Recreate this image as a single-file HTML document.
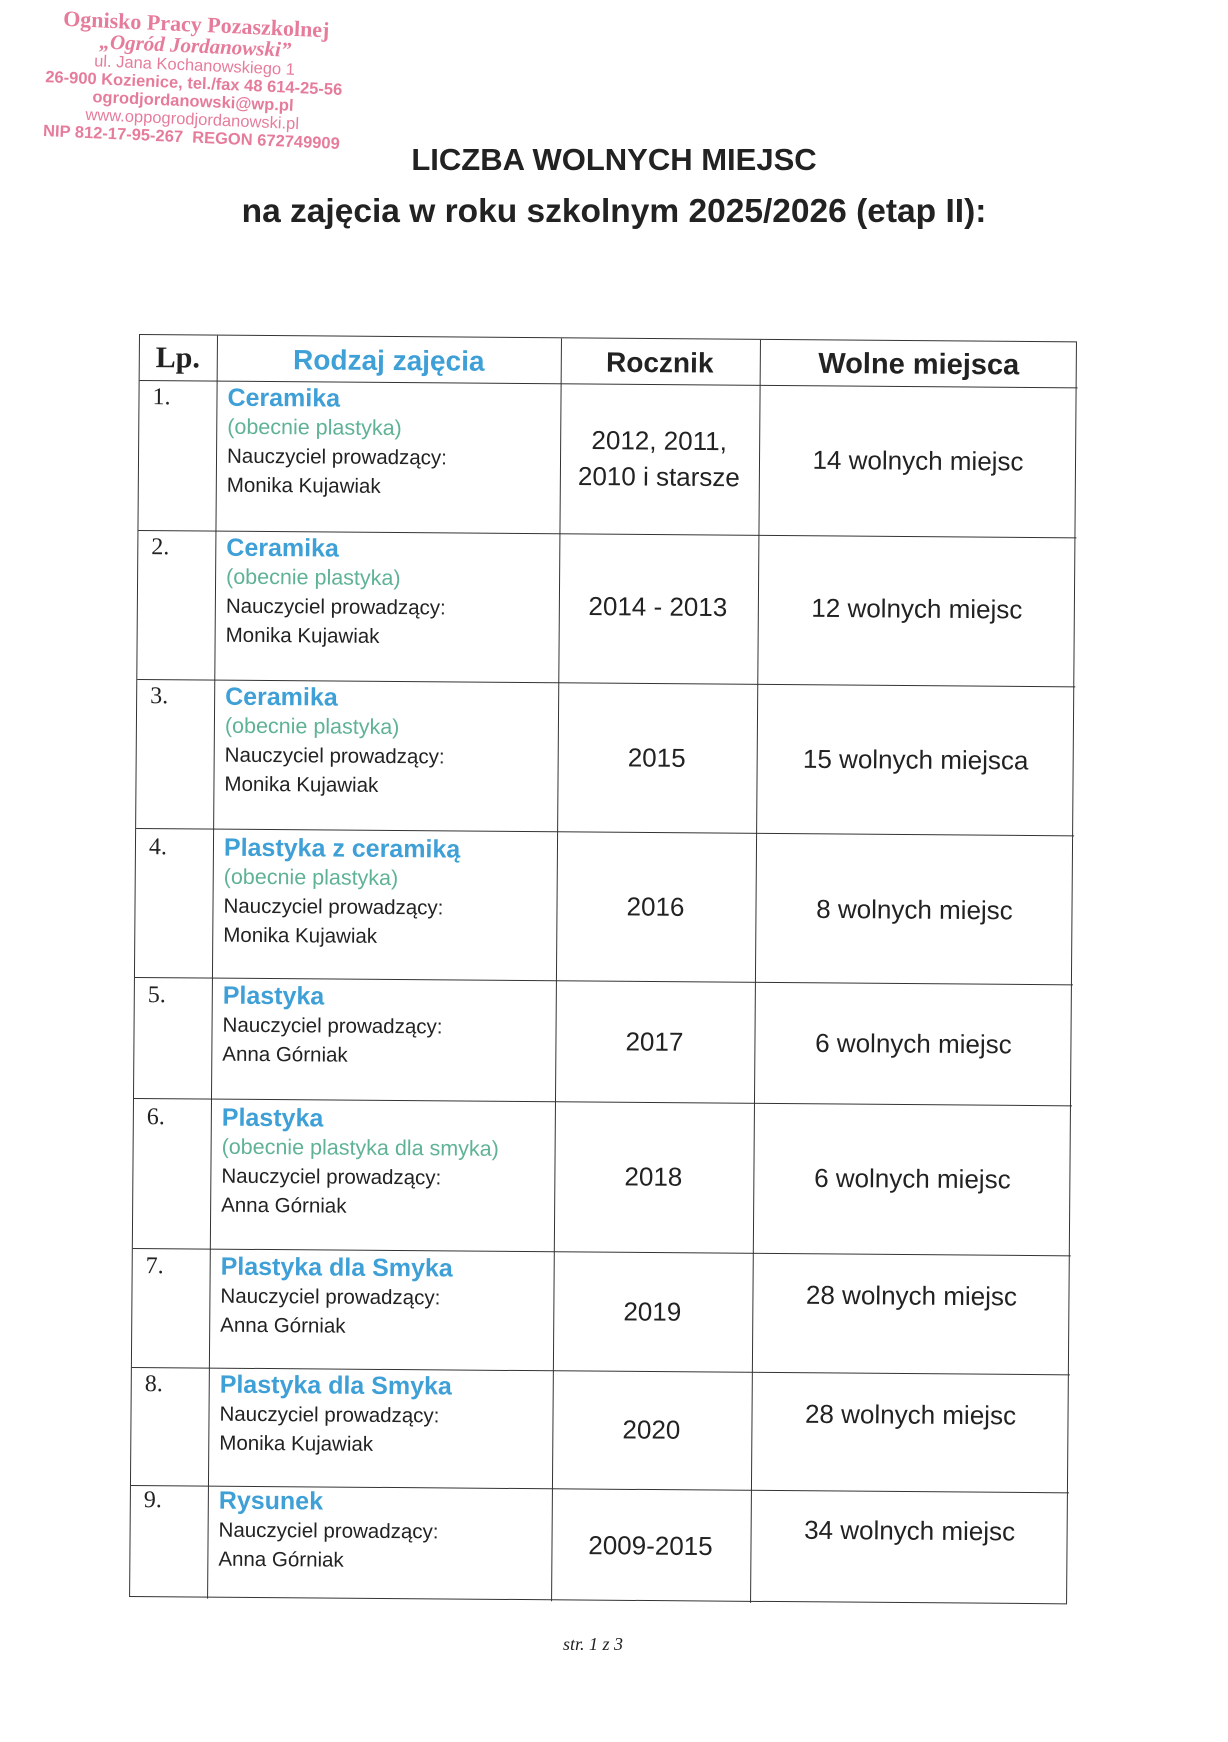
<!DOCTYPE html>
<html><head><meta charset="utf-8"><style>
html,body{margin:0;padding:0;background:#fff;}
body{width:1228px;height:1742px;position:relative;overflow:hidden;font-family:"Liberation Sans",sans-serif;color:#222;}
.a{position:absolute;white-space:nowrap;}
.stamp{position:absolute;left:22px;top:6px;width:350px;transform:rotate(2.5deg);transform-origin:0 0;color:#e2668a;opacity:.85;text-align:center;}
.stamp div{line-height:18px;font-size:16.5px;}
#t{position:absolute;left:139px;top:334px;width:938px;height:1263px;transform:rotate(0.45deg);transform-origin:0 0;border:1.5px solid #333;box-sizing:border-box;}
.h{position:absolute;left:0;width:938px;height:0;border-top:1.5px solid #333;}
.v{position:absolute;top:0;height:1263px;width:0;border-left:1.5px solid #333;}
.c{position:absolute;transform:translate(-50%,-50%);white-space:nowrap;font-size:26px;}
.cell{position:absolute;left:88px;font-size:20.5px;line-height:29px;}
.cell .b{color:#3ea0d6;font-weight:bold;font-size:25px;}
.cell .g{color:#5fb394;font-size:21.5px;}
.n{position:absolute;left:13px;font-family:"Liberation Serif",serif;font-size:24px;line-height:29px;}
</style></head><body>
<div class="stamp">
<div style="font-family:'Liberation Serif',serif;font-weight:bold;font-size:22px;line-height:22px;">Ognisko Pracy Pozaszkolnej</div>
<div style="font-family:'Liberation Serif',serif;font-style:italic;font-weight:bold;font-size:21px;line-height:21px;">„Ogród Jordanowski”</div>
<div>ul. Jana Kochanowskiego 1</div>
<div style="font-weight:bold">26-900 Kozienice, tel./fax 48 614-25-56</div>
<div style="font-weight:bold">ogrodjordanowski@wp.pl</div>
<div>www.oppogrodjordanowski.pl</div>
<div style="font-weight:bold">NIP 812-17-95-267 &nbsp;REGON 672749909</div>
</div>
<div class="a" style="left:0;width:1228px;text-align:center;top:142px;font-weight:bold;font-size:31px;">LICZBA WOLNYCH MIEJSC</div>
<div class="a" style="left:0;width:1228px;text-align:center;top:193px;font-weight:bold;font-size:33.5px;">na zajęcia w roku szkolnym 2025/2026 (etap II):</div>

<div id="t">
<div class="h" style="top:45px"></div>
<div class="h" style="top:195px"></div>
<div class="h" style="top:344px"></div>
<div class="h" style="top:493px"></div>
<div class="h" style="top:642px"></div>
<div class="h" style="top:763px"></div>
<div class="h" style="top:913px"></div>
<div class="h" style="top:1032px"></div>
<div class="h" style="top:1150px"></div>
<div class="v" style="left:77px"></div>
<div class="v" style="left:421px"></div>
<div class="v" style="left:620px"></div>

<div class="c" style="left:38px;top:23px;font-family:'Liberation Serif',serif;font-weight:bold;font-size:30px;">Lp.</div>
<div class="c" style="left:249px;top:24px;font-weight:bold;font-size:28px;color:#3ea0d6;">Rodzaj zajęcia</div>
<div class="c" style="left:520px;top:24px;font-weight:bold;font-size:28px;">Rocznik</div>
<div class="c" style="left:779px;top:24px;font-weight:bold;font-size:29px;">Wolne miejsca</div>

<div class="n" style="top:48px">1.</div>
<div class="cell" style="top:48px"><div class="b">Ceramika</div><div class="g">(obecnie plastyka)</div><div>Nauczyciel prowadzący:</div><div>Monika Kujawiak</div></div>
<div class="c" style="left:520px;top:102px">2012, 2011,</div>
<div class="c" style="left:520px;top:138px">2010 i starsze</div>
<div class="c" style="left:779px;top:120px">14 wolnych miejsc</div>

<div class="n" style="top:198px">2.</div>
<div class="cell" style="top:198px"><div class="b">Ceramika</div><div class="g">(obecnie plastyka)</div><div>Nauczyciel prowadzący:</div><div>Monika Kujawiak</div></div>
<div class="c" style="left:520px;top:268px">2014 - 2013</div>
<div class="c" style="left:779px;top:268px">12 wolnych miejsc</div>

<div class="n" style="top:347px">3.</div>
<div class="cell" style="top:347px"><div class="b">Ceramika</div><div class="g">(obecnie plastyka)</div><div>Nauczyciel prowadzący:</div><div>Monika Kujawiak</div></div>
<div class="c" style="left:520px;top:419px">2015</div>
<div class="c" style="left:779px;top:419px">15 wolnych miejsca</div>

<div class="n" style="top:498px">4.</div>
<div class="cell" style="top:498px"><div class="b">Plastyka z ceramiką</div><div class="g">(obecnie plastyka)</div><div>Nauczyciel prowadzący:</div><div>Monika Kujawiak</div></div>
<div class="c" style="left:520px;top:568px">2016</div>
<div class="c" style="left:779px;top:569px">8 wolnych miejsc</div>

<div class="n" style="top:646px">5.</div>
<div class="cell" style="top:646px"><div class="b">Plastyka</div><div>Nauczyciel prowadzący:</div><div>Anna Górniak</div></div>
<div class="c" style="left:520px;top:703px">2017</div>
<div class="c" style="left:779px;top:703px">6 wolnych miejsc</div>

<div class="n" style="top:768px">6.</div>
<div class="cell" style="top:768px"><div class="b">Plastyka</div><div class="g">(obecnie plastyka dla smyka)</div><div>Nauczyciel prowadzący:</div><div>Anna Górniak</div></div>
<div class="c" style="left:520px;top:838px">2018</div>
<div class="c" style="left:779px;top:838px">6 wolnych miejsc</div>

<div class="n" style="top:917px">7.</div>
<div class="cell" style="top:917px"><div class="b">Plastyka dla Smyka</div><div>Nauczyciel prowadzący:</div><div>Anna Górniak</div></div>
<div class="c" style="left:520px;top:973px">2019</div>
<div class="c" style="left:779px;top:955px">28 wolnych miejsc</div>

<div class="n" style="top:1035px">8.</div>
<div class="cell" style="top:1035px"><div class="b">Plastyka dla Smyka</div><div>Nauczyciel prowadzący:</div><div>Monika Kujawiak</div></div>
<div class="c" style="left:520px;top:1091px">2020</div>
<div class="c" style="left:779px;top:1074px">28 wolnych miejsc</div>

<div class="n" style="top:1151px">9.</div>
<div class="cell" style="top:1151px"><div class="b">Rysunek</div><div>Nauczyciel prowadzący:</div><div>Anna Górniak</div></div>
<div class="c" style="left:520px;top:1207px">2009-2015</div>
<div class="c" style="left:779px;top:1190px">34 wolnych miejsc</div>
</div>

<div class="a" style="left:563px;top:1634px;font-family:'Liberation Serif',serif;font-style:italic;font-size:18px;">str. 1 z 3</div>
</body></html>
